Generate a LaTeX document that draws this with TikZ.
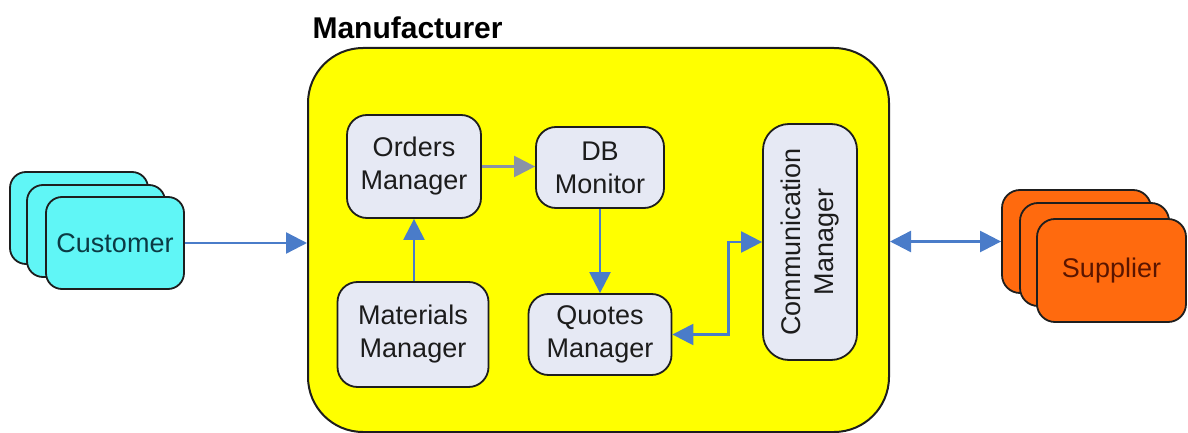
\documentclass[tikz,border=0pt]{standalone}
\usepackage{fontspec}
\setmainfont{Liberation Sans}
\usetikzlibrary{arrows.meta}

\definecolor{edge}{HTML}{1E1E1E}
\definecolor{mfrfill}{HTML}{FFFF00}
\definecolor{partfill}{HTML}{E6E9F4}
\definecolor{parttext}{HTML}{1C1C1C}
\definecolor{custfill}{HTML}{60F6F6}
\definecolor{custtext}{HTML}{0B3A44}
\definecolor{supfill}{HTML}{FF6A0E}
\definecolor{suptext}{HTML}{5A1500}
\definecolor{linkblue}{HTML}{4A7CC9}
\definecolor{linkgray}{HTML}{8A93A5}

\begin{document}
\begin{tikzpicture}[x=1pt,y=-1pt,
  labelfont/.style={font=\fontsize{27}{33}\selectfont},
  box/.style={draw=edge, line width=1.8pt, align=center, inner sep=0pt, labelfont},
  part/.style={box, fill=partfill, text=parttext, rounded corners=20pt},
  custbox/.style={box, fill=custfill, text=custtext, rounded corners=16pt,
    minimum width=138pt, minimum height=92pt},
  supbox/.style={box, fill=supfill, text=suptext, rounded corners=18pt,
    minimum width=149pt, minimum height=103pt},
  headtip/.tip={Triangle[length=21pt 0 0, width=21pt 0 0]},
  flow/.style={draw=linkblue, line width=2.4pt, -headtip},
  flowboth/.style={draw=linkblue, line width=2.4pt, headtip-headtip},
  flowgray/.style={draw=linkgray, line width=2.4pt, -headtip}
]
\useasboundingbox (0,0) rectangle (1188,433);

% manufacturer container
\node[draw=edge, line width=2pt, fill=mfrfill, rounded corners=55pt,
      minimum width=581pt, minimum height=384pt] (mfr) at (598.5,240) {};
\node[font=\bfseries\fontsize{30}{34}\selectfont, anchor=west] (mfrlabel) at (309,28) {Manufacturer};

% internal components
\node[part, minimum width=134pt, minimum height=103pt] (orders) at (414,166.5) {Orders\\Manager};
\node[part, minimum width=128pt, minimum height=81pt] (db) at (600,167.5) {DB\\Monitor};
\node[part, minimum width=151pt, minimum height=105pt] (mat) at (413,334.5) {Materials\\Manager};
\node[part, minimum width=143pt, minimum height=81pt] (quotes) at (600,334.5) {Quotes\\Manager};
\node[part, rounded corners=26pt, minimum width=94pt, minimum height=236pt] (comm) at (810,242) {};
\node[labelfont, text=parttext, align=center, rotate=90] (commtext) at (comm.center) {Communication\\Manager};

% customers (stacked)
\node[custbox] (cust3) at (79,218) {};
\node[custbox] (cust2) at (96,231) {};
\node[custbox] (cust1) at (115,243) {Customer};

% suppliers (stacked)
\node[supbox] (sup3) at (1076.5,241.5) {};
\node[supbox] (sup2) at (1094.5,254.5) {};
\node[supbox] (sup1) at (1111.5,270.5) {Supplier};

% connectors
\draw[flow] (cust1.east) -- (cust1.east -| mfr.west);
\draw[flowboth] (mfr.east |- sup3.west) -- (sup3.west);
\draw[flowgray] (orders.east) -- (orders.east -| db.west);
\draw[flow] (mat.north -| orders.south) -- (orders.south);
\draw[flow] (db.south) -- (db.south |- quotes.north);
\draw[flowboth] (quotes.east) -- ++(56pt,0) |- (comm.west);
\end{tikzpicture}
\end{document}
